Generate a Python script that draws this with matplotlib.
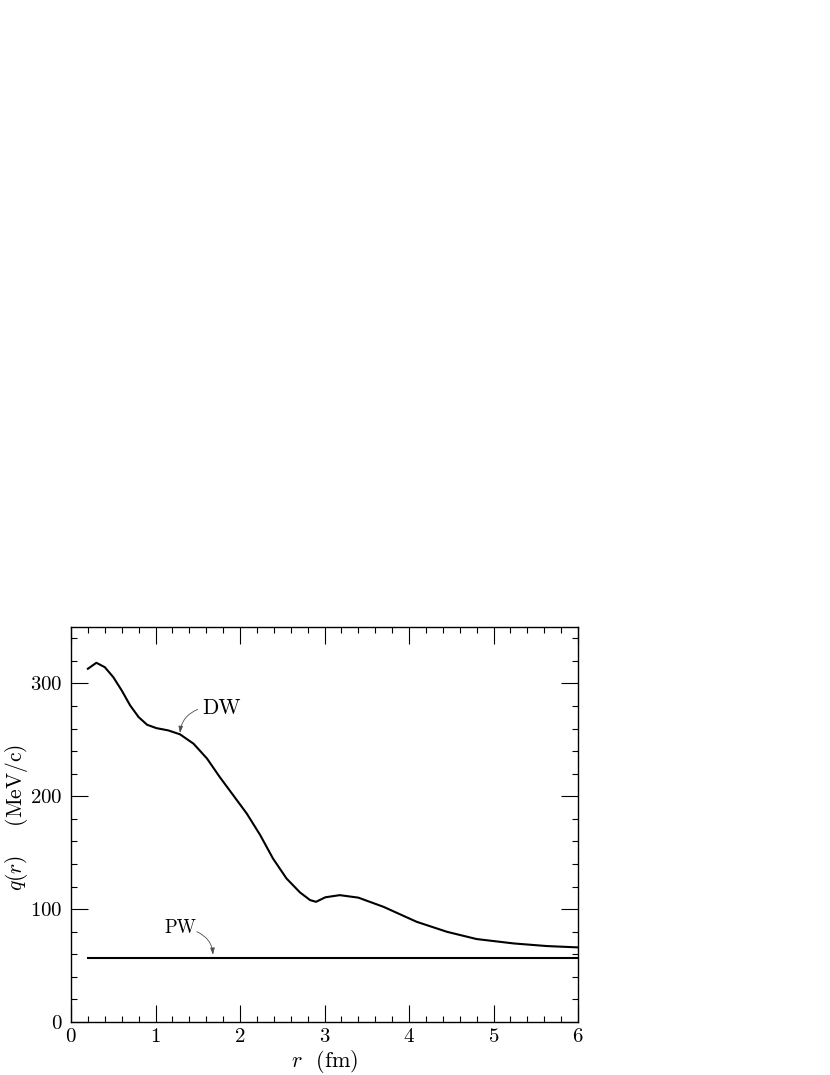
import matplotlib
matplotlib.use("Agg")
import matplotlib.pyplot as plt
from matplotlib.ticker import MultipleLocator

# ---- data ----
r_dw = [0.2, 0.3, 0.4, 0.5, 0.6, 0.7, 0.8, 0.9, 1.01, 1.15, 1.29, 1.45, 1.61,
        1.76, 1.92, 2.08, 2.24, 2.39, 2.55, 2.71, 2.83, 2.90, 3.01, 3.18, 3.40,
        3.70, 4.09, 4.45, 4.80, 5.24, 5.63, 6.0]
q_dw = [313, 318.3, 314.4, 305.6, 293.8, 280.5, 270.2, 263.4, 260.4, 258.4,
        254.9, 246.6, 233.4, 217.1, 200.9, 184.7, 165.5, 144.9, 127.2, 114.8,
        108, 106.5, 110.5, 112.4, 110.2, 102, 88.8, 79.9, 73.5, 69.6, 67.3, 66.1]
r_pw = [0.2, 6.0]
q_pw = [57, 57]

x_ticks = [0, 1, 2, 3, 4, 5, 6]
y_ticks = [0, 100, 200, 300]

plt.rcParams['font.family'] = ['cmr10', 'DejaVu Serif']
plt.rcParams['mathtext.fontset'] = 'cm'
plt.rcParams['axes.formatter.use_mathtext'] = True

fig = plt.figure(figsize=(8.3, 10.75), dpi=100)
ax = fig.add_axes([71/830, 1 - 1022/1075, (578-71)/830, (1022-627)/1075])

ax.plot(r_dw, q_dw, color='black', lw=1.5)
ax.plot(r_pw, q_pw, color='black', lw=1.5)

ax.set_xlim(0, 6)
ax.set_ylim(0, 350)
ax.set_xticks(x_ticks)
ax.set_yticks(y_ticks)
ax.xaxis.set_minor_locator(MultipleLocator(0.2))
ax.yaxis.set_minor_locator(MultipleLocator(20))
ax.tick_params(which='both', direction='in', top=True, right=True, width=0.8)
ax.tick_params(which='major', length=12, labelsize=15)
ax.tick_params(axis='x', which='major', pad=4)
ax.tick_params(axis='y', which='major', pad=6)
ax.tick_params(which='minor', length=4.5)
for s in ax.spines.values():
    s.set_linewidth(1.0)

ax.set_xlabel(r'$r$  (fm)', fontsize=16)
ax.xaxis.set_label_coords(0.501, -0.1)
ax.xaxis.label.set_va('center')
ax.set_ylabel(r'$q(r)$    (MeV/c)', fontsize=15.5)
ax.yaxis.set_label_coords(-0.108, 0.519)
ax.yaxis.label.set_va('center')

arrow_kw = dict(arrowstyle='-|>,head_length=0.4,head_width=0.13', lw=0.6,
                color='0.3', shrinkA=0, shrinkB=0)
ax.text(1.56, 278, 'DW', fontsize=15.5, ha='left', va='center')
ax.annotate('', xy=(1.29, 256), xytext=(1.50, 277),
            arrowprops=dict(connectionstyle='arc3,rad=0.3', **arrow_kw))
ax.text(1.10, 83, 'PW', fontsize=13.5, ha='left', va='center')
ax.annotate('', xy=(1.68, 59.5), xytext=(1.49, 80),
            arrowprops=dict(connectionstyle='arc3,rad=-0.3', **arrow_kw))

fig.savefig('out.png', dpi=100)
